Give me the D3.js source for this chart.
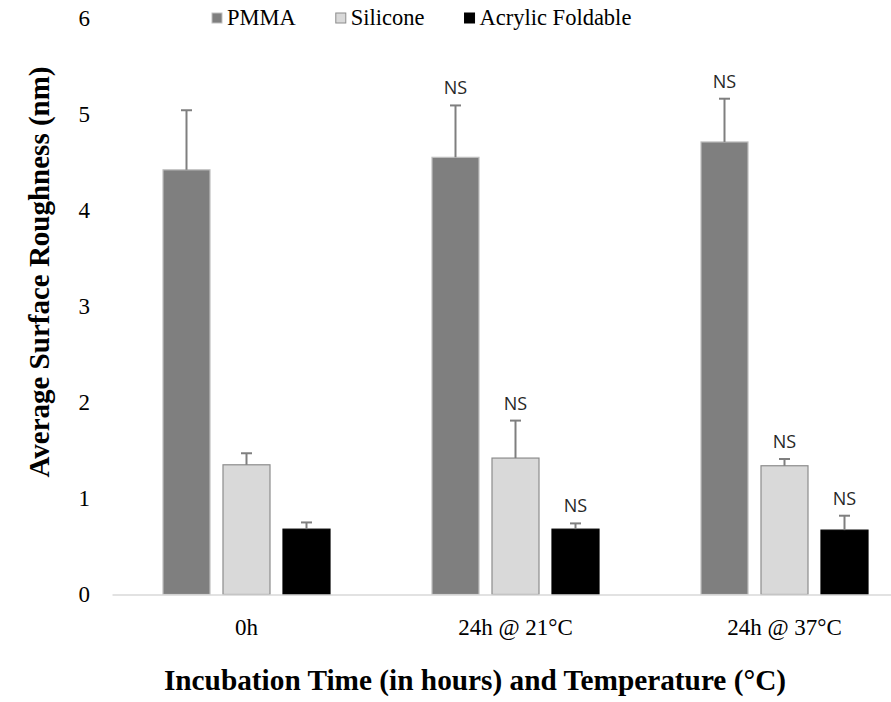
<!DOCTYPE html>
<html lang="en">
	<head>
		<meta charset="utf-8" />
		<title>Average Surface Roughness</title>
		<style>
			body { margin:0; background:#fff; }
		</style>
	</head>
	<body>
		<script type="text/javascript" charset="utf-8" src="https://cdn.jsdelivr.net/npm/d3@7/dist/d3.min.js"></script>
		<script>
			var categories = ['0h', '24h @ 21°C', '24h @ 37°C'];
			var seriesNames = ['PMMA', 'Silicone', 'Acrylic Foldable'];
			var pmma = [4.42, 4.55, 4.71];
			var pmmaErr = [0.62, 0.54, 0.45];
			var silicone = [1.35, 1.42, 1.34];
			var siliconeErr = [0.12, 0.39, 0.07];
			var acrylic = [0.68, 0.68, 0.67];
			var acrylicErr = [0.07, 0.06, 0.15];
			// which bars carry an "NS" mark, per category
			var nsMarks = [[false, false, false], [true, true, true], [true, true, true]];
			var yTicks = [0, 1, 2, 3, 4, 5, 6];

			var fills = ['#7f7f7f', '#d9d9d9', '#000000'];
			var borders = ['#bfbfbf', '#8c8c8c', '#000000'];
			var values = [pmma, silicone, acrylic];
			var errs = [pmmaErr, siliconeErr, acrylicErr];

			var serif = '"Liberation Serif", "Times New Roman", serif';

			var svg = d3.select('body').append('svg')
				.attr('width', 891)
				.attr('height', 702);

			var x0 = d3.scaleBand().domain(categories).range([112, 919]).padding(0);
			var x1 = d3.scaleBand().domain(seriesNames)
				.range([51, x0.bandwidth() - 51])
				.paddingInner(0.2167)
				.paddingOuter(0);
			var y = d3.scaleLinear().domain([0, 6]).range([594.5, 18]);

			// y axis labels only
			var yAxis = svg.append('g')
				.attr('transform', 'translate(112,0)')
				.call(d3.axisLeft(y).tickValues(yTicks).tickSize(0).tickPadding(22).tickFormat(d3.format('d')));
			yAxis.select('.domain').remove();
			yAxis.selectAll('text')
				.style('font-family', serif)
				.style('font-size', '23px')
				.attr('fill', '#000');

			var rows = [];
			categories.forEach(function(c, ci) {
				seriesNames.forEach(function(s, si) {
					rows.push({cat: c, ci: ci, ser: s, si: si, v: values[si][ci], e: errs[si][ci], ns: nsMarks[ci][si]});
				});
			});

			var groups = svg.append('g');
			groups.selectAll('rect')
				.data(rows)
				.enter().append('rect')
				.attr('x', function(d) { return x0(d.cat) + x1(d.ser); })
				.attr('y', function(d) { return y(d.v); })
				.attr('width', x1.bandwidth())
				.attr('height', function(d) { return y(0) - y(d.v); })
				.attr('fill', function(d) { return fills[d.si]; })
				.attr('stroke', function(d) { return borders[d.si]; })
				.attr('stroke-width', 1.2);

			// error bars (upper only)
			var eb = svg.append('g').attr('stroke', '#7f7f7f').attr('stroke-width', 2);
			rows.forEach(function(d) {
				var cx = x0(d.cat) + x1(d.ser) + x1.bandwidth() / 2;
				eb.append('line')
					.attr('x1', cx).attr('x2', cx)
					.attr('y1', y(d.v)).attr('y2', y(d.v + d.e));
				eb.append('line')
					.attr('x1', cx - 5.5).attr('x2', cx + 5.5)
					.attr('y1', y(d.v + d.e)).attr('y2', y(d.v + d.e));
			});

			// NS labels
			svg.append('g').selectAll('text')
				.data(rows.filter(function(d) { return d.ns; }))
				.enter().append('text')
				.attr('x', function(d) { return x0(d.cat) + x1(d.ser) + x1.bandwidth() / 2; })
				.attr('y', function(d) { return y(d.v + d.e) - 11; })
				.attr('text-anchor', 'middle')
				.style('font-family', '"Open Sans", sans-serif')
				.style('font-size', '18px')
				.attr('fill', '#262626')
				.text('NS');

			// x axis
			var xAxis = svg.append('g')
				.attr('transform', 'translate(0,' + y(0) + ')')
				.call(d3.axisBottom(x0).tickSize(0).tickSizeOuter(0).tickPadding(24));
			xAxis.select('.domain')
				.attr('stroke', '#d9d9d9')
				.attr('stroke-width', 1.5);
			xAxis.selectAll('text')
				.style('font-family', serif)
				.style('font-size', '23px')
				.attr('fill', '#000');

			// axis titles
			svg.append('text')
				.attr('transform', 'translate(49,272) rotate(-90)')
				.attr('text-anchor', 'middle')
				.style('font-family', serif)
				.style('font-size', '29px')
				.style('font-weight', 'bold')
				.text('Average Surface Roughness (nm)');

			svg.append('text')
				.attr('x', 475)
				.attr('y', 690)
				.attr('text-anchor', 'middle')
				.style('font-family', serif)
				.style('font-size', '29.3px')
				.style('font-weight', 'bold')
				.text('Incubation Time (in hours) and Temperature (°C)');

			// legend
			var legend = svg.append('g');
			var lx = 212;
			seriesNames.forEach(function(s, i) {
				legend.append('rect')
					.attr('x', lx).attr('y', 13)
					.attr('width', 10).attr('height', 10)
					.attr('fill', fills[i])
					.attr('stroke', borders[i])
					.attr('stroke-width', 1);
				var t = legend.append('text')
					.attr('x', lx + 15)
					.attr('y', 25)
					.style('font-family', serif)
					.style('font-size', '22.5px')
					.text(s);
				lx = lx + 15 + t.node().getComputedTextLength() + 40;
			});
		</script>
	</body>
</html>
